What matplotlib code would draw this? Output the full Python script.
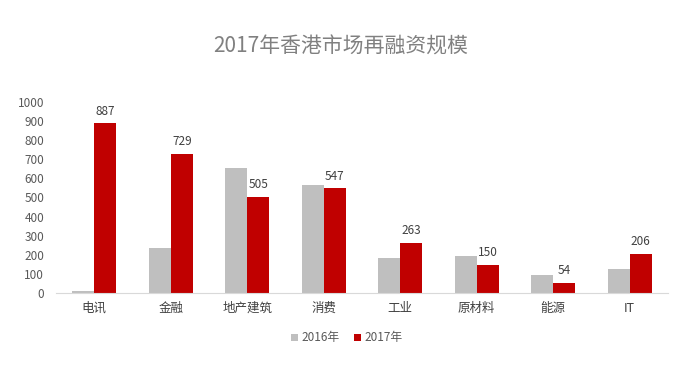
import numpy as np
import matplotlib
matplotlib.use('Agg')
import matplotlib.pyplot as plt

plt.rcParams['font.family'] = ['Noto Sans CJK SC', 'DejaVu Sans']

categories = ['电讯', '金融', '地产建筑', '消费', '工业', '原材料', '能源', 'IT']
vals_2016 = [12, 236, 652, 565, 186, 194, 97, 129]
vals_2017 = [887, 729, 505, 547, 263, 150, 54, 206]
series_names = ['2016年', '2017年']
yticks = [0, 100, 200, 300, 400, 500, 600, 700, 800, 900, 1000]

fig = plt.figure(figsize=(6.89, 3.66), dpi=100)
ax = fig.add_axes([56/689, 1 - 293.3/366, 612/689, 191.6/366])

x = np.arange(len(categories))
w = 0.29
b1 = ax.bar(x - w/2, vals_2016, w, color='#bfbfbf', label=series_names[0])
b2 = ax.bar(x + w/2, vals_2017, w, color='#c00000', label=series_names[1])

# labels only on the 2017 bars
for xi, v in zip(x, vals_2017):
    ax.text(xi + w/2, v + 30, str(v), ha='center', va='bottom',
            fontsize=8.5, color='#404040')

ax.set_xlim(-0.5, len(categories) - 0.5)
ax.set_ylim(0, 1000)
ax.set_yticks(yticks)
ax.set_xticks(x)
ax.set_xticklabels(categories, fontsize=9, color='#404040')
ax.tick_params(axis='y', length=0, pad=8.5, labelsize=8.5, labelcolor='#595959')
ax.tick_params(axis='x', length=0, pad=6)
for s in ['top', 'right', 'left']:
    ax.spines[s].set_visible(False)
ax.spines['bottom'].set_color('#d9d9d9')

fig.text(341/689, 1 - 47/366, '2017年香港市场再融资规模', ha='center', va='center',
         fontsize=15, color='#808080')

fig.legend(handles=[b1, b2], loc='center', bbox_to_anchor=(347/689, 1 - 338/366),
           ncol=2, frameon=False, fontsize=8.5, handlelength=0.6, handleheight=0.6,
           handletextpad=0.3, columnspacing=1.2, labelcolor='#595959')

fig.savefig('out.png', dpi=100)
plt.close()
